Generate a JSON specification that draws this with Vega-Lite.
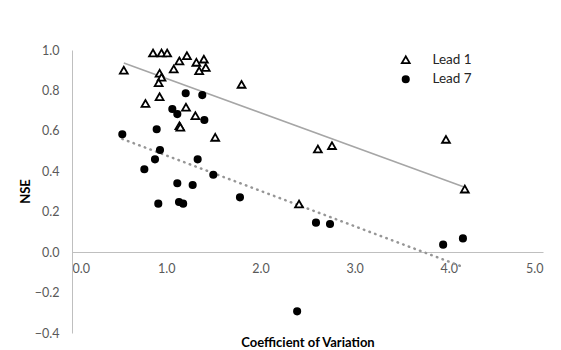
{
  "$schema": "https://vega.github.io/schema/vega-lite/v6.json",
  "autosize": {"type": "none"},
  "padding": {"left": 72, "top": 50, "right": 18, "bottom": 17},
  "width": 471,
  "height": 283,
  "background": "white",
  "config": {
    "view": {"stroke": null},
    "legend": {
      "title": null, "orient": "none", "legendX": 327, "legendY": 3,
      "labelFont": "Lato", "labelFontSize": 13.5, "labelColor": "#262626",
      "labelOffset": 20, "rowPadding": 4.5, "symbolStrokeWidth": 1.8
    }
  },
  "datasets": {
    "points": [
      {"cv": 0.55, "nse": 0.90, "series": "Lead 1"},
      {"cv": 0.86, "nse": 0.985, "series": "Lead 1"},
      {"cv": 0.95, "nse": 0.985, "series": "Lead 1"},
      {"cv": 1.01, "nse": 0.985, "series": "Lead 1"},
      {"cv": 1.22, "nse": 0.972, "series": "Lead 1"},
      {"cv": 1.14, "nse": 0.946, "series": "Lead 1"},
      {"cv": 1.40, "nse": 0.955, "series": "Lead 1"},
      {"cv": 1.32, "nse": 0.939, "series": "Lead 1"},
      {"cv": 1.42, "nse": 0.914, "series": "Lead 1"},
      {"cv": 1.08, "nse": 0.906, "series": "Lead 1"},
      {"cv": 1.35, "nse": 0.898, "series": "Lead 1"},
      {"cv": 0.93, "nse": 0.885, "series": "Lead 1"},
      {"cv": 0.95, "nse": 0.865, "series": "Lead 1"},
      {"cv": 0.92, "nse": 0.838, "series": "Lead 1"},
      {"cv": 0.93, "nse": 0.769, "series": "Lead 1"},
      {"cv": 0.78, "nse": 0.736, "series": "Lead 1"},
      {"cv": 1.21, "nse": 0.717, "series": "Lead 1"},
      {"cv": 1.31, "nse": 0.675, "series": "Lead 1"},
      {"cv": 1.14, "nse": 0.625, "series": "Lead 1"},
      {"cv": 1.15, "nse": 0.618, "series": "Lead 1"},
      {"cv": 1.52, "nse": 0.568, "series": "Lead 1"},
      {"cv": 1.80, "nse": 0.830, "series": "Lead 1"},
      {"cv": 2.61, "nse": 0.510, "series": "Lead 1"},
      {"cv": 2.76, "nse": 0.527, "series": "Lead 1"},
      {"cv": 3.97, "nse": 0.558, "series": "Lead 1"},
      {"cv": 2.41, "nse": 0.238, "series": "Lead 1"},
      {"cv": 4.17, "nse": 0.312, "series": "Lead 1"},
      {"cv": 0.534, "nse": 0.583, "series": "Lead 7"},
      {"cv": 1.207, "nse": 0.786, "series": "Lead 7"},
      {"cv": 1.383, "nse": 0.777, "series": "Lead 7"},
      {"cv": 1.065, "nse": 0.708, "series": "Lead 7"},
      {"cv": 1.118, "nse": 0.683, "series": "Lead 7"},
      {"cv": 1.405, "nse": 0.654, "series": "Lead 7"},
      {"cv": 0.899, "nse": 0.608, "series": "Lead 7"},
      {"cv": 0.934, "nse": 0.505, "series": "Lead 7"},
      {"cv": 0.881, "nse": 0.459, "series": "Lead 7"},
      {"cv": 1.334, "nse": 0.459, "series": "Lead 7"},
      {"cv": 0.768, "nse": 0.410, "series": "Lead 7"},
      {"cv": 1.50, "nse": 0.383, "series": "Lead 7"},
      {"cv": 1.118, "nse": 0.341, "series": "Lead 7"},
      {"cv": 1.281, "nse": 0.332, "series": "Lead 7"},
      {"cv": 0.916, "nse": 0.240, "series": "Lead 7"},
      {"cv": 1.136, "nse": 0.248, "series": "Lead 7"},
      {"cv": 1.18, "nse": 0.240, "series": "Lead 7"},
      {"cv": 1.783, "nse": 0.271, "series": "Lead 7"},
      {"cv": 2.59, "nse": 0.146, "series": "Lead 7"},
      {"cv": 2.739, "nse": 0.139, "series": "Lead 7"},
      {"cv": 3.94, "nse": 0.037, "series": "Lead 7"},
      {"cv": 4.15, "nse": 0.068, "series": "Lead 7"},
      {"cv": 2.39, "nse": -0.293, "series": "Lead 7"}
    ],
    "trend": [
      {"cv": 0.55, "nse": 0.936, "series": "Lead 1"},
      {"cv": 4.17, "nse": 0.321, "series": "Lead 1"},
      {"cv": 0.534, "nse": 0.56, "series": "Lead 7"},
      {"cv": 4.15, "nse": -0.073, "series": "Lead 7"}
    ]
  },
  "encoding": {
    "x": {
      "field": "cv", "type": "quantitative",
      "scale": {"domain": [0, 5], "nice": false, "zero": false},
      "axis": {
        "values": [0, 1, 2, 3, 4, 5], "format": ".1f", "grid": false, "ticks": false,
        "domainColor": "#BFBFBF", "domainWidth": 1,
        "labelColor": "#595959", "labelFont": "Lato", "labelFontSize": 12.5, "labelPadding": 10,
        "offset": -81,
        "title": "Coefficient of Variation", "titleFont": "Lato", "titleFontSize": 13,
        "titleFontWeight": "bold", "titleColor": "#000000",
        "titleBaseline": "middle", "titleY": 90
      }
    },
    "y": {
      "field": "nse", "type": "quantitative",
      "scale": {"domain": [-0.4, 1.0], "nice": false, "zero": false},
      "axis": {
        "values": [-0.4, -0.2, 0, 0.2, 0.4, 0.6, 0.8, 1.0], "format": ".1f", "grid": false, "ticks": false,
        "domainColor": "#BFBFBF", "domainWidth": 1,
        "labelColor": "#595959", "labelFont": "Lato", "labelFontSize": 12.5, "labelPadding": 13,
        "title": "NSE", "titleFont": "Lato", "titleFontSize": 13,
        "titleFontWeight": "bold", "titleColor": "#000000",
        "titleBaseline": "middle", "titleX": -47, "titleY": 141
      }
    }
  },
  "layer": [
    {
      "data": {"name": "trend"},
      "transform": [{"filter": "datum.series === 'Lead 1'"}],
      "mark": {"type": "line", "color": "#A6A6A6", "strokeWidth": 1.5}
    },
    {
      "data": {"name": "trend"},
      "transform": [{"filter": "datum.series === 'Lead 7'"}],
      "mark": {"type": "line", "color": "#969696", "strokeWidth": 2.5, "strokeCap": "round", "strokeDash": [0.5, 5.5]}
    },
    {
      "data": {"name": "points"},
      "mark": {"type": "point", "strokeWidth": 1.8, "opacity": 1, "filled": false},
      "encoding": {
        "shape": {
          "field": "series", "type": "nominal",
          "scale": {"domain": ["Lead 1", "Lead 7"], "range": ["triangle-up", "circle"]}
        },
        "fill": {
          "field": "series", "type": "nominal",
          "scale": {"domain": ["Lead 1", "Lead 7"], "range": ["#FFFFFF", "#000000"]}
        },
        "stroke": {
          "field": "series", "type": "nominal",
          "scale": {"domain": ["Lead 1", "Lead 7"], "range": ["#000000", "#000000"]}
        },
        "size": {
          "field": "series", "type": "nominal",
          "scale": {"domain": ["Lead 1", "Lead 7"], "range": [62, 40]}
        }
      }
    }
  ]
}
